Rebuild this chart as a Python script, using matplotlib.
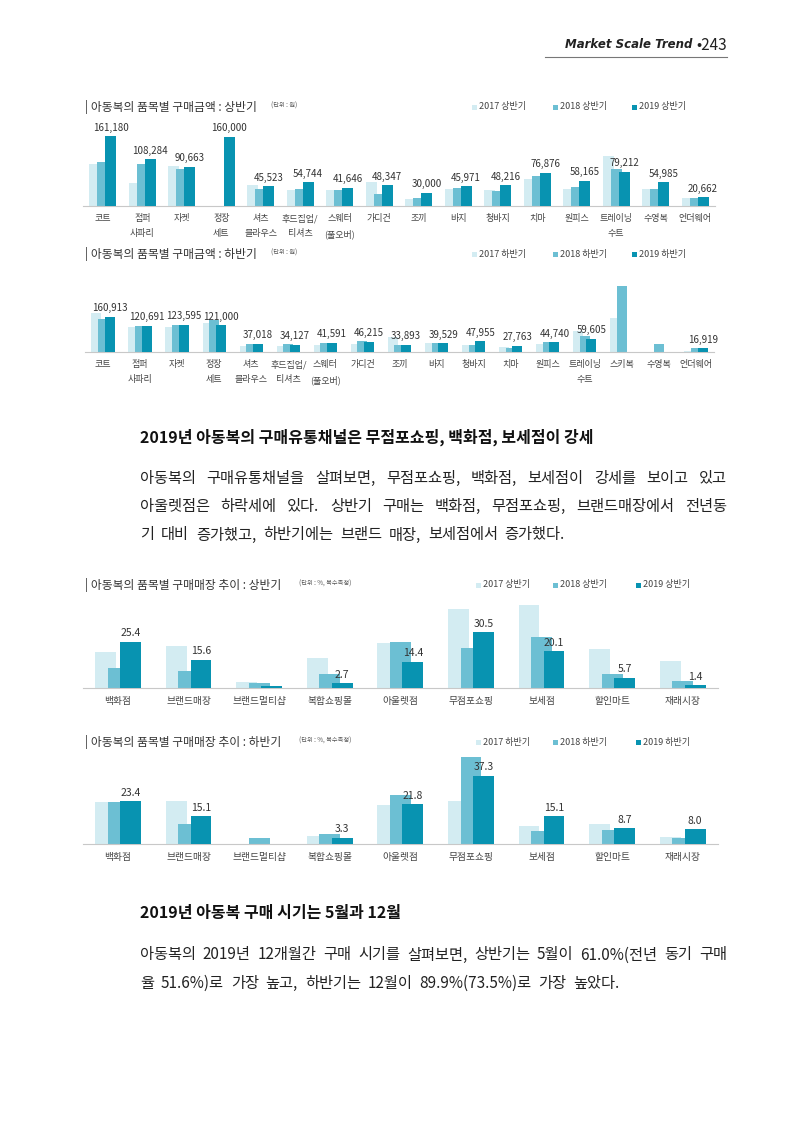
import matplotlib
matplotlib.use('Agg')
import matplotlib.pyplot as plt
from matplotlib.patches import Rectangle
from matplotlib.lines import Line2D
import numpy as np

plt.rcParams['font.family'] = ['Noto Sans CJK KR', 'DejaVu Sans']

# ---- data ----
items_h1 = ['코트', '점퍼\n사파리', '자켓', '정장\n세트', '셔츠\n블라우스', '후드집업/\n티셔츠',
            '스웨터\n(풀오버)', '가디건', '조끼', '바지', '청바지', '치마', '원피스',
            '트레이닝\n수트', '수영복', '언더웨어']
amt_h1_2017 = [97000, 52000, 92000, 0, 49000, 36000, 37500, 55000, 15000, 38000, 37500,
               63000, 40000, 115000, 40000, 18500]
amt_h1_2018 = [101000, 97000, 86000, 0, 38000, 40000, 37500, 28500, 17500, 41500, 34500,
               68000, 44500, 84500, 40000, 18500]
amt_h1_2019 = [161180, 108284, 90663, 160000, 45523, 54744, 41646, 48347, 30000, 45971,
               48216, 76876, 58165, 79212, 54985, 20662]

items_h2 = ['코트', '점퍼\n사파리', '자켓', '정장\n세트', '셔츠\n블라우스', '후드집업/\n티셔츠',
            '스웨터\n(풀오버)', '가디건', '조끼', '바지', '청바지', '치마', '원피스',
            '트레이닝\n수트', '스키복', '수영복', '언더웨어']
amt_h2_2017 = [179000, 115000, 115000, 130000, 26000, 29000, 31000, 35000, 69000, 41000,
               32000, 21500, 35000, 95000, 156000, 0, 6000]
amt_h2_2018 = [150000, 118000, 122000, 148000, 37500, 34500, 42000, 50500, 34000, 39500,
               33000, 17000, 45500, 72000, 302000, 37000, 18500]
amt_h2_2019 = [160913, 120691, 123595, 121000, 37018, 34127, 41591, 46215, 33893, 39529,
               47955, 27763, 44740, 59605, 0, 0, 16919]

stores = ['백화점', '브랜드매장', '브랜드멀티샵', '복합쇼핑몰', '아울렛점', '무점포쇼핑',
          '보세점', '할인마트', '재래시장']
st_h1_2017 = [19.7, 22.8, 3.1, 16.6, 24.7, 43.0, 45.2, 21.4, 14.6]
st_h1_2018 = [11.2, 9.3, 2.6, 7.5, 25.4, 21.8, 28.2, 7.5, 4.0]
st_h1_2019 = [25.4, 15.6, 1.3, 2.7, 14.4, 30.5, 20.1, 5.7, 1.4]
st_h1_labels = ['25.4', '15.6', '', '2.7', '14.4', '30.5', '20.1', '5.7', '1.4']
st_h2_2017 = [22.9, 23.7, 0, 4.6, 21.3, 23.3, 9.8, 11.1, 3.6]
st_h2_2018 = [23.1, 10.7, 3.3, 5.3, 26.9, 47.5, 6.9, 7.5, 3.5]
st_h2_2019 = [23.4, 15.1, 0, 3.3, 21.8, 37.3, 15.1, 8.7, 8.0]
st_h2_labels = ['23.4', '15.1', '', '3.3', '21.8', '37.3', '15.1', '8.7', '8.0']

COLORS = ['#d3ecf2', '#6cbfd3', '#0893b1']

W, H = 800, 1131
fig = plt.figure(figsize=(8, 11.31), dpi=100)


def fx(x):
    return x / W


def fy(y):
    return 1 - y / H


def txt(x, y, s, **kw):
    return fig.text(fx(x), fy(y), s, **kw)


def bar_chart(box, cats, series, labels, width, step, ylim, tick_size=6.5, label_size=7.5):
    left, top, right, bottom = box
    ax = fig.add_axes([fx(left), fy(bottom), (right - left) / W, (bottom - top) / H])
    x = np.arange(len(cats))
    for k, (vals, col) in enumerate(zip(series, COLORS)):
        ax.bar(x + (k - 1) * step, vals, width, color=col, zorder=k + 1, linewidth=0)
    for i, lab in enumerate(labels):
        if lab:
            ax.annotate(lab, (x[i] + step, series[2][i]), xytext=(0, 2.5),
                        textcoords='offset points', ha='center', va='bottom',
                        fontsize=label_size, color='#333')
    ax.set_xlim(-0.5, len(cats) - 0.5)
    ax.set_ylim(0, ylim)
    ax.set_xticks(x, cats, fontsize=tick_size, color='#444', linespacing=1.8)
    ax.tick_params(length=0, pad=6)
    ax.set_yticks([])
    for sp in ['top', 'left', 'right']:
        ax.spines[sp].set_visible(False)
    ax.spines['bottom'].set_color('#c8c8c8')
    ax.spines['bottom'].set_linewidth(0.8)
    ax.patch.set_alpha(0)
    return ax


def chart_head(y, title, unit, unit_x, legend_labels, legend_xs):
    txt(85, y, title, fontsize=8.5, va='center', color='#333')
    txt(unit_x, y - 1, unit, fontsize=4.5, va='center', color='#555')
    for lx, lab, col in zip(legend_xs, legend_labels, COLORS):
        fig.add_artist(Rectangle((fx(lx), fy(y + 2.5)), 5 / W, 5 / H,
                                 transform=fig.transFigure, color=col, lw=0))
        txt(lx + 7, y, lab, fontsize=6.5, va='center', color='#444')


def paragraph(x0, x1, y0, dy, lines, size):
    r = fig.canvas.get_renderer()
    for n, line in enumerate(lines):
        y = y0 + n * dy
        words = line.split(' ')
        ts = [txt(0, y, w, fontsize=size, va='center', color='#222') for w in words]
        ws = [t.get_window_extent(r).width for t in ts]
        if n < len(lines) - 1:
            gap = (x1 - x0 - sum(ws)) / (len(words) - 1)
        else:
            gap = size * 1.39 * 0.45
        pos = x0
        for t, w in zip(ts, ws):
            t.set_x(fx(pos))
            pos += w + gap


# ---- page header ----
txt(727, 45, '•243', fontsize=11, ha='right', va='center', color='#222')
txt(692, 45, 'Market Scale Trend', fontsize=8.5, ha='right', va='center',
    family='DejaVu Sans', style='italic', weight='bold', color='#222')
fig.add_artist(Line2D([fx(545), fx(727)], [fy(57), fy(57)], color='#777', lw=0.8))

# ---- chart 1: 구매금액 상반기 ----
chart_head(107, '| 아동복의 품목별 구매금액 : 상반기', '(단위 : 원)', 271,
           ['2017 상반기', '2018 상반기', '2019 상반기'], [472, 553, 632])
px1 = 70 / 161180
bar_chart((83, 120, 715, 206), items_h1, [amt_h1_2017, amt_h1_2018, amt_h1_2019],
          [f'{v:,}' for v in amt_h1_2019], 0.28, 0.2, 86 / px1, label_size=7)

# ---- chart 2: 구매금액 하반기 ----
chart_head(254, '| 아동복의 품목별 구매금액 : 하반기', '(단위 : 원)', 271,
           ['2017 하반기', '2018 하반기', '2019 하반기'], [472, 553, 632])
px2 = 35.3 / 160913
bar_chart((84.5, 270, 714.5, 352), items_h2, [amt_h2_2017, amt_h2_2018, amt_h2_2019],
          [f'{v:,}' if v else '' for v in amt_h2_2019], 0.27, 0.18, 82 / px2, label_size=7)

# ---- text block 1 ----
txt(140, 437, '2019년 아동복의 구매유통채널은 무점포쇼핑, 백화점, 보세점이 강세',
    fontsize=11.5, weight='bold', va='center', color='#111')
paragraph(140, 727, 478, 28.5, [
    '아동복의 구매유통채널을 살펴보면, 무점포쇼핑, 백화점, 보세점이 강세를 보이고 있고',
    '아울렛점은 하락세에 있다. 상반기 구매는 백화점, 무점포쇼핑, 브랜드매장에서 전년동',
    '기 대비 증가했고, 하반기에는 브랜드 매장, 보세점에서 증가했다.'], 11)

# ---- chart 3: 구매매장 상반기 ----
chart_head(585, '| 아동복의 품목별 구매매장 추이 : 상반기', '(단위 : %, 복수측정)', 299,
           ['2017 상반기', '2018 상반기', '2019 상반기'], [476, 553, 636])
bar_chart((82.7, 600, 718, 688), stores, [st_h1_2017, st_h1_2018, st_h1_2019],
          st_h1_labels, 0.295, 0.177, 88 / 1.826, tick_size=7)

# ---- chart 4: 구매매장 하반기 ----
chart_head(742, '| 아동복의 품목별 구매매장 추이 : 하반기', '(단위 : %, 복수측정)', 299,
           ['2017 하반기', '2018 하반기', '2019 하반기'], [476, 553, 636])
bar_chart((82.7, 754, 718, 844), stores, [st_h2_2017, st_h2_2018, st_h2_2019],
          st_h2_labels, 0.295, 0.177, 90 / 1.832, tick_size=7)

# ---- text block 2 ----
txt(140, 913, '2019년 아동복 구매 시기는 5월과 12월',
    fontsize=11.5, weight='bold', va='center', color='#111')
paragraph(140, 727, 955, 28.5, [
    '아동복의 2019년 12개월간 구매 시기를 살펴보면, 상반기는 5월이 61.0%(전년 동기 구매',
    '율 51.6%)로 가장 높고, 하반기는 12월이 89.9%(73.5%)로 가장 높았다.'], 11)

fig.savefig('out.png', dpi=100)
